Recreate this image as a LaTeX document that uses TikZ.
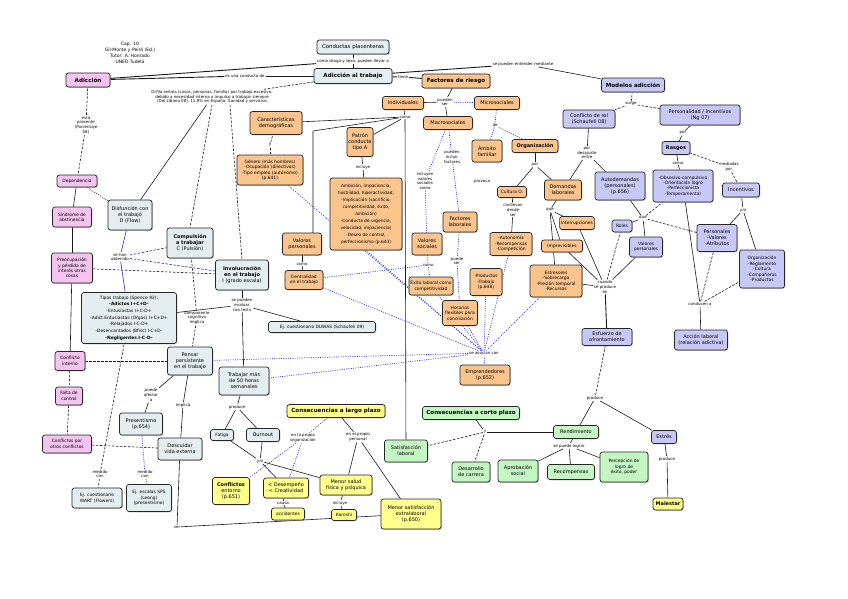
\documentclass[tikz,border=0pt]{standalone}
\usepackage{fontspec}
\setmainfont{DejaVu Sans}
\usetikzlibrary{shadows}
\definecolor{cpk}{RGB}{245,195,240}
\definecolor{cbg}{RGB}{228,238,240}
\definecolor{cor}{RGB}{250,196,140}
\definecolor{clv}{RGB}{200,200,246}
\definecolor{cyl}{RGB}{255,255,140}
\definecolor{cgr}{RGB}{196,246,196}
\definecolor{cbl}{RGB}{40,40,230}
\newcommand\fsn{\fontsize{5.0}{6.0}\selectfont}
\newcommand\fss{\fontsize{4.4}{5.4}\selectfont}
\newcommand\fsb{\fontsize{5.6}{6.6}\selectfont\bfseries}
\newcommand\fsbs{\fontsize{5.0}{6.0}\selectfont\bfseries}
\newcommand\fsl{\fontsize{4.0}{4.8}\selectfont}
\pgfdeclarelayer{back}
\pgfdeclarelayer{edges}
\pgfsetlayers{back,edges,main}
\begin{document}
\begin{tikzpicture}[x=1pt,y=-1pt,
 bx/.style={draw=black!85, line width=0.7pt, rounded corners=2.5pt, align=center, inner xsep=1.5pt, inner ysep=1.2pt, font=\fsn, drop shadow={shadow xshift=0.8pt, shadow yshift=-0.8pt, fill=black!50}},
 sz/.style 2 args={minimum width=#1pt, minimum height=#2pt},
 npk/.style={bx, fill=cpk}, nbg/.style={bx, fill=cbg}, nor/.style={bx, fill=cor},
 nlv/.style={bx, fill=clv}, nyl/.style={bx, fill=cyl}, ngr/.style={bx, fill=cgr},
 lb/.style={font=\fsl, align=center, inner sep=0.8pt},
 ln/.style={draw=black!90, line width=0.6pt},
 dl/.style={draw=black!90, line width=0.6pt, dash pattern=on 2.5pt off 1.5pt},
 dt/.style={draw=black!90, line width=0.6pt, dash pattern=on 1pt off 1.2pt},
 bd/.style={draw=cbl, line width=0.65pt, dash pattern=on 1pt off 1.3pt},
 bs/.style={draw=cbl, line width=0.6pt},
 bdd/.style={draw=cbl, line width=0.6pt, dash pattern=on 2.5pt off 1.5pt}]
\begin{pgfonlayer}{back}
\fill[white] (0,0) rectangle (848,599);
\end{pgfonlayer}
\useasboundingbox (0,0) rectangle (848,599);

% ---------- title ----------
\node[lb, font=\fontsize{4.5}{5.8}\selectfont] (title) at (130,53) {Cap. 10\\Gil-Monte y Peiró (Ed.)\\Tutor: A. Honrado\\UNED Tudela};

% ---------- top ----------
\node[nbg, font=\fontsize{5.4}{6.4}\selectfont, sz={72}{14}] (cp) at (353,47) {Conductas placenteras};
\node[lb] (lcp) at (353,61) {como droga y sexo, pueden llevar a};
\node[nbg, font=\fsb, sz={78}{15}] (at) at (353,76) {Adicción al trabajo};
\node[npk, font=\fsb, sz={44}{14}] (ad) at (88,80) {Adicción};
\node[lb] (lad) at (245,76) {es una conducta de};
\node[lb] (llong) at (212,97) {Orfila señala (casos, personas, familia) por trabajo excesivo,\\debido a necesidad interna o impulso a trabajar siempre\\(Del Líbano 08), 11,9\% en España. Sanidad y servicios};
\node[lb] (lte) at (403,77) {tiene};
\node[nor, font=\fsb, sz={68}{14}] (fr) at (456,81) {Factores de riesgo};
\node[lb] (lme) at (523,64) {se pueden entender mediante};
\node[nlv, font=\fsb, sz={63}{14}] (ma) at (633,85) {Modelos adicción};

% ---------- risk factors ----------
\node[nor, sz={41}{13}] (ind) at (403,103) {Individuales};
\node[lb] (lps) at (445,102) {pueden\\ser};
\node[nor, sz={45}{13}] (mic) at (497,103) {Microsociales};
\node[nor, sz={49}{13}] (mac) at (448,123) {Macrosociales};
\node[lb] (lde) at (495,125) {de};
\node[nor, sz={30}{22}] (fam) at (487,151) {Ámbito\\familiar};
\node[nor, font=\fsbs, sz={46}{13}] (org) at (535,146) {Organización};
\node[lb] (lpor) at (535,165) {por};
\node[nor, font=\fss, sz={29}{11}] (cul) at (512,192) {Cultura O.};
\node[nor, sz={37}{20}] (dem) at (563,190) {Demandas\\laborales};
\node[lb] (lprov) at (482,182) {provoca};
\node[lb] (lm1) at (425,181) {incluyen\\valores\\sociales\\como};
\node[lb] (lm2) at (452,157) {pueden\\incluir\\factores};

\node[lb] (lcomoI) at (405,117) {como};
\node[nor, sz={52}{23}] (cdem) at (276,123) {Características\\demográficas};
\node[lb] (ly2) at (270,145) {y};
\node[nor, font=\fss, sz={66}{30}] (gen) at (270,170) {Género (más hombres)\\-Ocupación (directivos)\\-Tipo empleo (autónomo)\\(p.641)};
\node[nor, sz={24}{29}] (pat) at (360,142) {Patrón\\conducta\\tipo A};
\node[lb] (linc) at (363,167) {incluye};
\node[nor, font=\fontsize{4.3}{7}\selectfont, sz={72}{72}] (big) at (366,214) {Ambición, impaciencia,\\hostilidad, hiperactividad,\\-Implicación (sacrificio,\\competitividad, éxito,\\ambición)\\-Conducta de urgencia,\\velocidad, impaciencia)\\-Deseo de control,\\perfeccionismo (p.643)};
\node[nor, sz={39}{22}] (vper) at (302,244) {Valores\\personales};
\node[lb] (lcomo2) at (302,264) {como};
\node[nor, font=\fss, sz={38}{19}] (cen) at (304,280) {Centralidad\\en el trabajo};
\node[nor, sz={30}{22}] (vsoc) at (427,244) {Valores\\sociales};
\node[lb] (lcomo3) at (428,265) {como};
\node[nor, font=\fss, sz={42}{18}] (exi) at (431,286) {Éxito laboral como\\competitividad};
\node[nor, sz={34}{20}] (flab) at (460,222) {Factores\\laborales};
\node[lb] (lpuede) at (457,261) {puede\\ser};
\node[nor, font=\fss, sz={32}{27}] (prod) at (486,282) {-Productos\\-Trabajo\\(p.648)};
\node[nor, font=\fss, sz={35}{25}] (hor) at (460,313) {Horarios\\flexibles para\\conciliación};
\node[lb] (lcons) at (513,210) {conllevan\\desde\\ser};
\node[nor, font=\fss, sz={42}{23}] (aut) at (511,244) {-Autonomía\\-Recompensas\\-Competición};
\node[lb] (lque2) at (550,210) {que};
\node[nor, font=\fss, sz={31}{13}] (int) at (577,223) {Interrupciones};
\node[nor, font=\fss, sz={41}{12}] (imp) at (562,246) {Imprevisibles};
\node[nor, font=\fss, sz={52}{32}] (est) at (556,281) {Estresores\\-Sobrecarga\\-Presión temporal\\-Recursos};
\node[lb] (lhub) at (484,353) {se asocian con};
\node[nor, sz={50}{20}] (emp) at (485,375) {Emprendedores\\(p.652)};

% ---------- models ----------
\node[lb] (lsurge) at (631,104) {surge};
\node[nlv, sz={52}{18}] (cr) at (589,119) {Conflicto de rol\\(Schaufeli 08)};
\node[nlv, sz={80}{20}] (per) at (700,115) {Personalidad / Incentivos\\(Ng 07)};
\node[lb] (lpor2) at (683,133) {por};
\node[nlv, font=\fsbs, sz={28}{13}] (ras) at (676,148) {Rasgos};
\node[lb] (lcomo) at (678,163) {como};
\node[lb] (lmed) at (729,167) {mediadas\\por};
\node[nlv, font=\fss, sz={60}{32}] (rasl) at (683,186) {-Obsesivo-compulsivo\\-Orientación logro\\-Perfeccionista\\-Temperamental};
\node[nlv, sz={37}{14}] (inc) at (741,190) {Incentivos};
\node[lb] (ldes) at (587,153) {por\\desajuste\\entre};
\node[nlv, sz={50}{28}] (auto) at (620,186) {Autodemandas\\(personales)\\(p.656)};
\node[lb] (lque) at (643,218) {que};
\node[nlv, font=\fss, sz={20}{12}] (roles) at (622,226) {Roles};
\node[nlv, font=\fss, sz={33}{20}] (vpl) at (646,247) {Valores\\personales};
\node[lb] (ly) at (743,210) {y/o};
\node[nlv, sz={40}{27}] (pers) at (717,238) {Personales\\-Valores\\-Atributos};
\node[nlv, font=\fss, sz={45}{38}] (orgl) at (762,269) {Organización\\-Reglamento\\-Cultura\\-Compañeros\\-Productos};
\node[lb] (lcon) at (700,304) {conducen a};
\node[nlv, sz={53}{20}] (acc) at (701,340) {Acción laboral\\(relación adictiva)};
\node[lb] (lcuando) at (605,287) {cuando\\se produce\\en};
\node[nlv, sz={50}{17}] (esf) at (607,337) {Esfuerzo de\\afrontamiento};

% ---------- left column ----------
\node[lb] (lpres) at (86,125) {está\\presente\\(Porcentaje\\08)};
\node[npk, font=\fss, sz={40}{12}] (dep) at (77,181) {Dependencia};
\node[npk, font=\fss, sz={39}{20}] (sin) at (72,217) {Síndrome de\\abstinencia};
\node[npk, font=\fss, sz={41}{30}] (preo) at (72,268) {Preocupación\\y pérdida de\\interés otras\\cosas};
\node[npk, font=\fss, sz={30}{19}] (cint) at (70,361) {Conflicto\\interno};
\node[npk, font=\fss, sz={27}{18}] (falt) at (69,396) {Falta de\\control};
\node[npk, font=\fss, sz={49}{18}] (cotr) at (67,444) {Conflictos por\\otros conflictos};

\node[nbg, sz={44}{30}] (dis) at (130,215) {Disfunción con\\el trabajo\\D (Flow)};
\node[nbg, sz={46}{30}] (comp) at (190,243) {\textbf{Compulsión}\\\textbf{a trabajar}\\C (Pulsión)};
\node[nbg, sz={53}{30}] (inv) at (242,275) {\textbf{Involucración}\\\textbf{en el trabajo}\\I (grado escala)};
\node[lb] (lsehan) at (120,257) {se han\\obtenido};
\node[nbg, font=\fontsize{4.4}{6.6}\selectfont, sz={95}{51}] (tip) at (129,318) {Tipos trabajo (Spence 92):\\\textbf{-Adictos I+C+D-}\\-Entusiastas I+C-D+\\-Adict.Entusiastas (Orgas) I+C+D+\\-Relajados I-C-D+\\-Desencantados (Bfisc) I-C+D-\\\textbf{-Negligentes I-C-D-}};
\node[lb] (lcomp) at (197,318) {componente\\cognitivo\\implica};
\node[lb] (lev) at (242,305) {se pueden\\evaluar\\con tests};
\node[nbg, font=\fss, sz={107}{11}] (duw) at (322,327) {Ej. cuestionario DUWAS (Schaufeli 09)};
\node[nbg, sz={45}{28}] (pens) at (190,361) {Pensar\\persistente\\en el trabajo};
\node[nbg, sz={50}{28}] (tra) at (244,381) {Trabajar más\\de 50 horas\\semanales};
\node[lb] (lprod) at (237,407) {produce};
\node[nbg, font=\fss, sz={23}{11}] (fat) at (222,435) {Fatiga};
\node[nbg, sz={33}{13}] (bur) at (263,435) {Burnout};
\node[lb] (lafe) at (151,395) {puede\\afectar\\a};
\node[lb] (limp) at (183,405) {implica};
\node[nbg, sz={43}{22}] (pres) at (141,424) {Presentismo\\(p.654)};
\node[nbg, sz={44}{22}] (desc) at (180,449) {Descuidar\\vida externa};
\node[lb] (lmed1) at (100,474) {medido\\con};
\node[lb] (lmed2) at (145,474) {medido\\con};
\node[nbg, font=\fss, sz={50}{20}] (wart) at (97,498) {Ej. cuestionario\\WART (Flowers)};
\node[nbg, font=\fss, sz={45}{27}] (sps) at (149,498) {Ej. escalas SPS\\(Leong)\\(presentismo)};
\node[lb] (lver) at (177,527) {ver};

% ---------- consequences ----------
\node[nyl, font=\fsb, sz={98}{13}] (clp) at (336,411) {Consecuencias a largo plazo};
\node[lb] (lorg) at (303,438) {en la propia\\organización};
\node[lb] (lind) at (358,437) {en el propio\\personal};
\node[lb] (lyo) at (260,461) {y/o};
\node[nyl, sz={37}{27}] (conf) at (231,491) {\textbf{Conflictos}\\entorno\\(p.651)};
\node[nyl, sz={45}{20}] (desp) at (286,488) {< Desempeño\\< Creatividad};
\node[lb] (lcausa) at (283,503) {causa};
\node[nyl, font=\fss, sz={33}{12}] (accid) at (288,514) {accidentes};
\node[nyl, sz={52}{20}] (msal) at (346,485) {Menor salud\\física y psíquica};
\node[lb] (linc2) at (340,503) {incluye};
\node[nyl, font=\fss, sz={25}{11}] (kar) at (344,515) {Karoshi};
\node[nyl, sz={60}{30}] (msat) at (411,514) {Menor satisfacción\\extralaboral\\(p.650)};

\node[ngr, sz={43}{22}] (sat) at (406,451) {Satisfacción\\laboral};
\node[ngr, font=\fsb, sz={97}{13}] (ccp) at (471,413) {Consecuencias a corto plazo};
\node[lb] (ljun) at (485,432) {y};
\node[ngr, sz={38}{20}] (desa) at (471,472) {Desarrollo\\de carrera};
\node[lb] (lprod3) at (595,398) {produce};
\node[ngr, sz={45}{13}] (rend) at (576,432) {Rendimiento};
\node[lb] (llog) at (569,446) {se puede lograr};
\node[ngr, sz={40}{22}] (apr) at (518,471) {Aprobación\\social};
\node[ngr, sz={47}{15}] (rec) at (571,472) {Recompensas};
\node[ngr, font=\fss, sz={48}{30}] (perc) at (624,467) {Percepción de\\logro de\\éxito, poder};
\node[nlv, sz={25}{13}] (estr) at (664,437) {Estrés};
\node[lb] (lprod2) at (667,459) {produce};
\node[nyl, font=\fsbs, sz={30}{12}] (mal) at (668,504) {Malestar};

% ================= edges =================
\begin{pgfonlayer}{edges}
% top
\path (lad) edge[ln, line width=0.9pt] (ad) edge[ln, line width=0.9pt] (at);
\path (lcp) edge[ln] (cp) edge[ln] (at) edge[ln, line width=0.9pt] (ad);
\draw[dl] (at) -- (llong);
\draw[ln] (llong) -- (dis);
\draw[dl] (llong.south) -- (comp.north);
\draw[dl] ([xshift=18pt]llong.south) -- (inv.north);
\path (lte) edge[ln, line width=0.9pt] (at) edge[ln, line width=0.9pt] (fr);
\path (lme) edge[ln, line width=0.9pt] (at) edge[ln] (ma);
% left pink
\path (lpres) edge[dl] (ad) edge[dl] (dep);
\draw[ln] (dep) -- (sin);
\draw[ln] (sin) -- (preo);
\draw[ln] (preo) -- (cint);
\draw[dl] (cint) -- (falt);
\draw[dl] (falt) -- (cotr);
\draw[dt] (dep) -- (dis);
\draw[dl] (preo) -- (inv);
\draw[dl] (cint) -- (pens);
\draw[dl] (cotr) -- (desc);
% blue-gray
\path (lsehan) edge[bs] (dis) edge[bdd] (comp) edge[bdd] (inv) edge[bs] (tip);
\path (lcomp) edge[dl] (comp) edge[dl] (pens);
\path (lev) edge[ln] (inv) edge[ln] (duw) edge[ln] (tip) edge[ln] (tra);
\path (lmed1) edge[dl] (tip) edge[dl] (wart);
\path (lafe) edge[ln] (pens) edge[ln] (pres);
\path (limp) edge[ln] (pens) edge[ln] (desc);
\path (lmed2) edge[bd] (pres) edge[bd] (sps);
\path (lver) edge[ln] (desc) edge[ln] (msat);
\path (lprod) edge[ln] (tra) edge[ln] (fat) edge[ln] (bur);
\path (lyo) edge[ln] (fat) edge[ln] (bur) edge[ln] (desp) edge[ln] (msal);
\path (lcausa) edge[ln] (desp) edge[ln] (accid);
\path (linc2) edge[ln] (msal) edge[ln] (kar);
\path (lorg) edge[bd] (clp) edge[bd] (conf) edge[bd] (desp);
\path (lind) edge[ln] (clp) edge[ln] (msal) edge[ln] (msat);
% risk factors
\path (lps) edge[ln] (fr) edge[ln] (ind) edge[bd] (mic) edge[ln] (mac);
\draw[ln] (ind) -- (lcomoI);
\path (lcomoI) edge[ln] (cdem) edge[ln] (pat) edge[ln] (sat);
\draw[ln] (lcomoI) -- (313,131) -- (313,233);
\path (ly2) edge[dl] (cdem) edge[dl] (gen);
\path (linc) edge[ln] (pat) edge[ln] (big);
\path (lcomo2) edge[ln] (vper) edge[ln] (cen);
\path (lde) edge[bd] (mic) edge[bd] (fam) edge[bd] (org);
\path (lm1) edge[bd] (mac) edge[bd] (vsoc);
\path (lm2) edge[bd] (mac) edge[bd] (flab);
\path (lcomo3) edge[bd] (vsoc) edge[bd] (exi) edge[bd] (cen);
\path (lpuede) edge[bd] (flab) edge[bd] (hor);
\path (lpor) edge[ln] (org) edge[ln] (cul) edge[ln] (dem);
\path (lcons) edge[ln] (cul) edge[ln] (aut);
\path (lque2) edge[ln] (dem) edge[ln] (int) edge[ln] (imp) edge[ln] (est);
% hub
\path (lhub) edge[bd] (gen) edge[bd] (big.south) edge[bd] (cen) edge[bd] (exi) edge[bd] (hor) edge[bd] (prod) edge[bd] (aut) edge[bd] (est) edge[bd] (tra) edge[bd] (pens) edge[bd] (emp);
% models
\path (lsurge) edge[dl] (ma) edge[dl] (cr) edge[dl] (per);
\path (lpor2) edge[ln] (per) edge[ln] (ras);
\path (lcomo) edge[ln] (ras) edge[ln] (rasl);
\path (lmed) edge[dl] (ras) edge[dl] (inc);
\path (ldes) edge[ln] (cr) edge[ln] (dem) edge[ln] (auto);
\path (lque) edge[ln] (auto) edge[ln] (roles) edge[ln] (vpl) edge[dl] (rasl) edge[dl] (pers);
\path (ly) edge[ln] (inc) edge[ln] (pers) edge[ln] (orgl);
\path (lcon) edge[ln] (rasl) edge[dl] (pers) edge[dl] (orgl) edge[ln] (acc);
\path (lcuando) edge[ln] (int) edge[ln] (imp) edge[ln] (est) edge[dl] (roles) edge[ln] (vpl);
\draw[ln, line width=0.9pt] (lcuando) -- (esf);
\path (lprod3) edge[dl] (esf) edge[ln] (rend) edge[ln] (estr);
\path (llog) edge[ln] (rend) edge[ln] (apr) edge[ln] (rec) edge[ln] (perc);
\path (lprod2) edge[ln] (estr) edge[ln] (mal);
\path (ljun) edge[ln] (ccp) edge[dl] (sat) edge[dl] (desa) edge[ln] (rend);
\end{pgfonlayer}
\end{tikzpicture}
\end{document}
